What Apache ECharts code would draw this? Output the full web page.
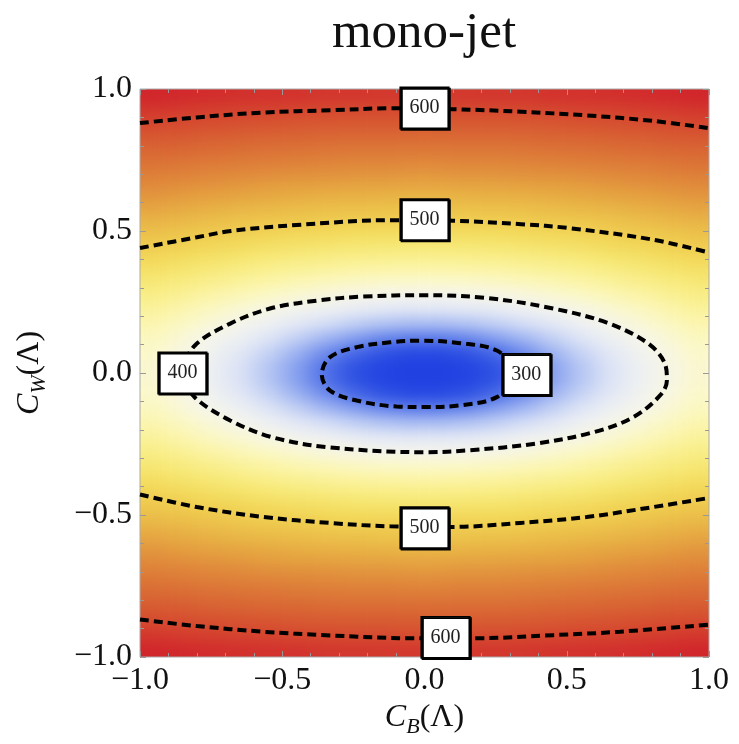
<!DOCTYPE html>
<html><head><meta charset="utf-8">
<script src="https://cdn.jsdelivr.net/npm/echarts@6/dist/echarts.min.js"></script>
<style>html,body{margin:0;padding:0;background:#fff;} #chart{width:739px;height:744px;}</style>
</head><body>
<svg width="0" height="0" style="position:absolute">
<defs><filter id="smooth" color-interpolation-filters="sRGB" x="-5%" y="-5%" width="110%" height="110%">
<feGaussianBlur stdDeviation="11 6"/>
<feComponentTransfer><feFuncA type="linear" slope="40" intercept="0"/></feComponentTransfer>
</filter></defs></svg>
<div id="chart"></div>
<script>
// ---- axis ticks ----
const tickValues = [-1, -0.5, 0, 0.5, 1];
const tickLabels = ['\u22121.0', '\u22120.5', '0.0', '0.5', '1.0'];

// ---- heat field (cell centres and values) ----
const cbCenters = [-0.95,-0.85,-0.75,-0.65,-0.55,-0.45,-0.35,-0.25,-0.15,-0.05,0.05,0.15,0.25,0.35,0.45,0.55,0.65,0.75,0.85,0.95];
const cwCenters = [-0.975,-0.925,-0.875,-0.825,-0.775,-0.725,-0.675,-0.625,-0.575,-0.525,-0.475,-0.425,-0.375,-0.325,-0.275,-0.225,-0.175,-0.125,-0.075,-0.025,
                   0.025,0.075,0.125,0.175,0.225,0.275,0.325,0.375,0.425,0.475,0.525,0.575,0.625,0.675,0.725,0.775,0.825,0.875,0.925,0.975];
// rows from bottom (C_W = -0.975) to top (C_W = 0.975)
const fieldRows = [
[619,617,615,613,612,611,609,609,608,608,608,608,609,609,611,612,613,615,617,619],
[609,606,604,602,601,599,598,597,597,596,596,597,597,598,599,601,602,604,606,609],
[598,595,593,591,589,587,586,585,585,584,584,585,585,586,587,589,591,593,595,598],
[586,584,581,579,577,576,574,573,573,572,572,573,573,574,576,577,579,581,584,586],
[575,572,570,568,566,564,562,561,561,560,560,561,561,562,564,566,568,570,572,575],
[564,561,558,556,554,552,551,549,549,548,548,549,549,551,552,554,556,558,561,564],
[553,550,547,544,541,539,538,536,536,535,535,536,536,538,539,541,544,547,550,553],
[542,538,535,532,529,527,525,524,523,522,522,523,524,525,527,529,532,535,538,542],
[530,526,523,519,517,514,512,511,510,509,509,510,511,512,514,517,519,523,526,530],
[519,515,511,507,504,502,499,497,496,495,495,496,497,499,502,504,507,511,515,519],
[508,503,499,494,489,485,482,479,478,477,477,478,479,482,485,489,494,499,503,508],
[496,490,483,478,472,468,465,462,460,459,459,460,462,465,468,472,478,483,490,496],
[482,475,468,462,456,451,447,443,441,440,440,441,443,447,451,456,462,468,475,482],
[469,461,454,446,439,432,427,423,420,419,419,420,423,427,432,439,446,454,461,469],
[457,448,438,429,421,414,408,403,400,397,397,400,403,408,414,421,429,438,448,457],
[445,434,423,414,404,394,384,376,370,367,367,370,376,384,394,404,414,423,434,445],
[434,422,411,399,384,370,358,348,340,336,336,340,348,358,370,384,399,411,422,434],
[425,412,400,382,365,349,333,320,309,304,304,309,320,333,349,365,382,400,412,425],
[419,405,389,370,351,331,312,294,276,266,266,276,294,312,331,351,370,389,405,419],
[416,402,383,363,342,321,299,274,256,246,246,256,274,299,321,342,363,383,402,416],
[416,402,383,363,342,321,299,274,256,246,246,256,274,299,321,342,363,383,402,416],
[419,405,389,370,351,331,312,294,276,266,266,276,294,312,331,351,370,389,405,419],
[425,412,400,382,365,349,333,320,309,304,304,309,320,333,349,365,382,400,412,425],
[434,422,411,399,384,370,358,348,340,336,336,340,348,358,370,384,399,411,422,434],
[445,434,423,414,404,394,384,376,370,367,367,370,376,384,394,404,414,423,434,445],
[457,448,438,429,421,414,408,403,400,397,397,400,403,408,414,421,429,438,448,457],
[469,461,454,446,439,432,427,423,420,419,419,420,423,427,432,439,446,454,461,469],
[482,475,468,462,456,451,447,443,441,440,440,441,443,447,451,456,462,468,475,482],
[496,490,483,478,472,468,465,462,460,459,459,460,462,465,468,472,478,483,490,496],
[508,503,499,494,489,485,482,479,478,477,477,478,479,482,485,489,494,499,503,508],
[519,515,511,507,504,502,499,497,496,495,495,496,497,499,502,504,507,511,515,519],
[530,526,523,519,517,514,512,511,510,509,509,510,511,512,514,517,519,523,526,530],
[542,538,535,532,529,527,525,524,523,522,522,523,524,525,527,529,532,535,538,542],
[553,550,547,544,541,539,538,536,536,535,535,536,536,538,539,541,544,547,550,553],
[564,561,558,556,554,552,551,549,549,548,548,549,549,551,552,554,556,558,561,564],
[575,572,570,568,566,564,562,561,561,560,560,561,561,562,564,566,568,570,572,575],
[586,584,581,579,577,576,574,573,573,572,572,573,573,574,576,577,579,581,584,586],
[598,595,593,591,589,587,586,585,585,584,584,585,585,586,587,589,591,593,595,598],
[609,606,604,602,601,599,598,597,597,596,596,597,597,598,599,601,602,604,606,609],
[619,617,615,613,612,611,609,609,608,608,608,608,609,609,611,612,613,615,617,619]
];
const fieldMin = 240, fieldMax = 620;
const fieldColors = ['#1f3fe0','#2547e2','#3558e4','#5574e8','#86a0ef','#b3c4f3','#d9e1f6','#eceff3','#f5f5ec','#fbf8c8',
                     '#fbf4a4','#f8ec82','#f4e064','#f0cf50','#e9b646','#e3983e','#dd7c38','#d86233','#d5462f','#d1242b'];

// ---- contour lines ----
const c600TopCB = [-1, -0.8, -0.57, -0.33, -0.12, 0.1, 0.34, 0.57, 0.8, 1];
const c600TopCW = [0.88, 0.9, 0.917, 0.925, 0.932, 0.929, 0.92, 0.907, 0.888, 0.862];
const c500TopCB = [-1, -0.8, -0.68, -0.45, -0.12, 0.1, 0.34, 0.51, 0.8, 1];
const c500TopCW = [0.44, 0.478, 0.5, 0.521, 0.538, 0.536, 0.524, 0.51, 0.47, 0.424];
const c500BotCB = [-1, -0.8, -0.567, -0.332, -0.121, 0.1, 0.336, 0.57, 0.804, 1];
const c500BotCW = [-0.428, -0.472, -0.507, -0.528, -0.54, -0.542, -0.528, -0.507, -0.472, -0.44];
const c600BotCB = [-1, -0.8, -0.567, -0.332, -0.039, 0.178, 0.453, 0.687, 1];
const c600BotCW = [-0.868, -0.891, -0.911, -0.924, -0.934, -0.934, -0.923, -0.911, -0.886];
const c400CB = [-0.86, -0.807, -0.683, -0.543, -0.378, -0.216, 0, 0.22, 0.452, 0.641, 0.782, 0.845, 0.852, 0.828, 0.733, 0.592, 0.395, 0.16, 0, -0.332, -0.532, -0.683, -0.807, -0.86];
const c400CW = [0, 0.097, 0.174, 0.227, 0.255, 0.269, 0.274, 0.264, 0.227, 0.177, 0.107, 0.033, -0.026, -0.079, -0.156, -0.209, -0.248, -0.272, -0.279, -0.262, -0.227, -0.167, -0.086, 0];
const c300CB = [0.34, 0.254, 0.125, -0.016, -0.121, -0.238, -0.332, -0.361, -0.332, -0.238, -0.098, 0, 0.125, 0.254, 0.34];
const c300CW = [0, 0.079, 0.105, 0.114, 0.108, 0.091, 0.056, -0.005, -0.062, -0.097, -0.118, -0.12, -0.114, -0.085, 0];

// ---- contour labels ----
const labelText = ['600', '500', '400', '300', '500', '600'];
const labelCB = [0, 0, -0.851, 0.358, 0, 0.074];
const labelCW = [0.933, 0.54, 0, -0.005, -0.545, -0.931];

const FONT = "'Liberation Serif','DejaVu Serif',serif";
const chart = echarts.init(document.getElementById('chart'), null, {renderer: 'canvas'});

const heatData = [];
fieldRows.forEach((row, j) => row.forEach((v, i) => heatData.push([i, j, v])));

const fmt = v => { const k = tickValues.indexOf(Math.round(v * 10) / 10); return k >= 0 ? tickLabels[k] : ''; };

const valueAxisBase = {
  type: 'value', min: -1, max: 1, interval: 0.5, zlevel: 1,
  axisLine: {show: false, onZero: false}, splitLine: {show: false},
  axisTick: {show: true, inside: true, length: 6, lineStyle: {color: '#999', width: 1}},
  minorTick: {show: true, splitNumber: 5, length: 4, lineStyle: {color: '#999', width: 1}},
  minorSplitLine: {show: false}
};
const rich = {
  i: {fontFamily: FONT, fontStyle: 'italic', fontSize: 32, lineHeight: 40, color: '#111'},
  s: {fontFamily: FONT, fontStyle: 'italic', fontSize: 22, lineHeight: 20, verticalAlign: 'bottom', color: '#111'},
  n: {fontFamily: FONT, fontSize: 32, lineHeight: 40, color: '#111'}
};
const labelStyle = {show: true, fontFamily: FONT, fontSize: 32, color: '#111', formatter: fmt};

const contours = [
  [c600TopCB, c600TopCW], [c500TopCB, c500TopCW], [c500BotCB, c500BotCW],
  [c600BotCB, c600BotCW], [c400CB, c400CW], [c300CB, c300CW]
];
const contourSeries = contours.map(([cb, cw]) => ({
  type: 'line', xAxisIndex: 0, yAxisIndex: 0, zlevel: 1, z: 3,
  data: cb.map((x, i) => [x, cw[i]]),
  showSymbol: false, symbol: 'none', smooth: 0.35, silent: true,
  lineStyle: {color: '#000', width: 4, type: [9, 5], cap: 'butt'}
}));

chart.setOption({
  animation: false,
  backgroundColor: 'transparent',
  title: {text: 'mono-jet', left: 419, top: 3, textAlign: 'center', zlevel: 1,
          textStyle: {fontFamily: FONT, fontSize: 51, fontWeight: 'normal', color: '#111'}},
  grid: {left: 140, right: 30, top: 89, bottom: 87, show: true, borderColor: '#aaa', borderWidth: 1,
         backgroundColor: 'transparent', zlevel: 1, containLabel: false, outerBoundsMode: 'none'},
  visualMap: {type: 'continuous', show: false, min: fieldMin, max: fieldMax, seriesIndex: 0, dimension: 2,
              inRange: {color: fieldColors}},
  xAxis: [
    Object.assign({}, valueAxisBase, {position: 'bottom', axisLabel: Object.assign({margin: 8}, labelStyle),
      name: '{i|C}{s|B}{n|(\u039B)}', nameLocation: 'middle', nameGap: 34, nameTextStyle: {rich: rich}}),
    {type: 'category', data: cbCenters.map(String), show: false, position: 'bottom', boundaryGap: true},
    Object.assign({}, valueAxisBase, {position: 'top', axisLabel: {show: false}})
  ],
  yAxis: [
    Object.assign({}, valueAxisBase, {position: 'left', axisLabel: Object.assign({margin: 8}, labelStyle),
      name: '{i|C}{s|W}{n|(\u039B)}', nameLocation: 'middle', nameRotate: 90, nameGap: 90, nameTextStyle: {rich: rich}}),
    {type: 'category', data: cwCenters.map(String), show: false, position: 'left', boundaryGap: true},
    Object.assign({}, valueAxisBase, {position: 'right', axisLabel: {show: false}})
  ],
  series: [
    {type: 'heatmap', xAxisIndex: 1, yAxisIndex: 1, zlevel: 0, data: heatData, progressive: 0, silent: true}
  ].concat(contourSeries).concat([
    {type: 'scatter', xAxisIndex: 0, yAxisIndex: 0, zlevel: 1, z: 6, clip: false, silent: true,
     symbol: 'rect', symbolSize: [48, 41],
     itemStyle: {color: '#fff', borderColor: '#000', borderWidth: 2, opacity: 1,
                 shadowColor: '#000', shadowBlur: 0, shadowOffsetX: 1.2, shadowOffsetY: 1.2},
     label: {show: true, position: 'inside', formatter: '{b}', fontFamily: FONT, fontSize: 20, color: '#222'},
     data: labelCB.map((x, i) => ({name: labelText[i], value: [x, labelCW[i]]}))}
  ])
});

// smooth the heat layer (blur + unpremultiply) and clip it to the plot frame
const p1 = chart.convertToPixel({seriesIndex: 1}, [-1, 1]);
const p2 = chart.convertToPixel({seriesIndex: 1}, [1, -1]);
const layer = chart.getZr().painter.getLayer(0);
if (layer && layer.dom) {
  layer.dom.style.filter = 'url(#smooth)';
  layer.dom.style.clipPath = 'inset(' + p1[1] + 'px ' + (739 - p2[0]) + 'px ' + (744 - p2[1]) + 'px ' + p1[0] + 'px)';
}
</script></body></html>
